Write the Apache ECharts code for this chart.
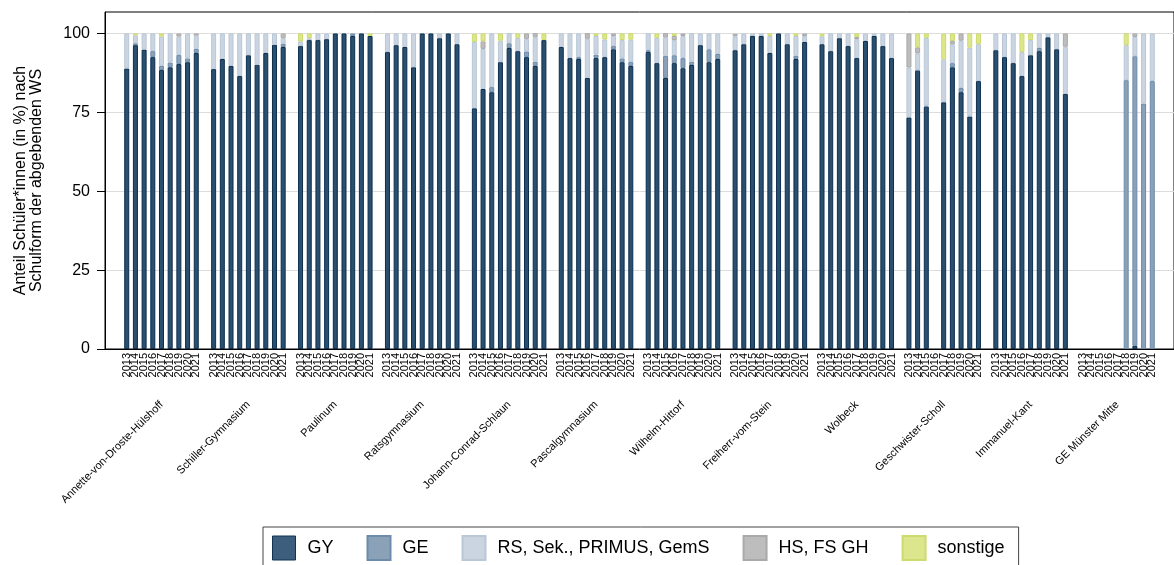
<!DOCTYPE html>
<html><head><meta charset="utf-8">
<script src="https://cdn.jsdelivr.net/npm/echarts@6/dist/echarts.min.js"></script>
<style>html,body{margin:0;padding:0;background:#fff}#c{width:1174px;height:565px}</style>
</head><body><div id="c"></div>
<script>
const schools = ['Annette-von-Droste-Hülshoff','Schiller-Gymnasium','Paulinum','Ratsgymnasium','Johann-Conrad-Schlaun','Pascalgymnasium','Wilhelm-Hittorf','Freiherr-vom-Stein','Wolbeck','Geschwister-Scholl','Immanuel-Kant','GE Münster Mitte'];
const years = ['2013','2014','2015','2016','2017','2018','2019','2020','2021'];
const yTicks = [0,25,50,75,100];
// 9 values per school, in school order
const GY = [
  88.9,96.3,94.9,92.5,88.4,89.3,90.3,90.9,93.8,
  88.7,91.9,89.7,86.5,93.1,90.1,93.8,96.4,95.7,
  96.0,97.9,97.9,98.2,100,100,99.2,100,99.2,
  94.1,96.3,95.7,89.3,100,100,98.5,100,96.6,
  76.3,82.4,81.4,90.9,95.4,94.4,92.5,89.7,97.9,
  95.7,92.2,91.9,85.9,92.2,92.5,95.0,90.9,89.7,
  94.1,90.6,85.9,90.6,89.0,90.0,96.3,90.9,91.9,
  94.7,96.6,99.2,99.2,93.8,100,96.6,91.9,97.3,
  96.6,94.4,98.5,96.0,92.2,97.6,99.2,96.0,92.2,
  73.4,88.2,76.8,null,78.2,89.3,81.4,73.7,84.9,
  94.7,92.5,90.6,86.5,93.1,94.4,98.8,95.0,80.8,
  null,null,null,null,null,0,1.0,0,0
];
const GE = [
  0,0.6,0,1.9,1.3,1.5,2.9,1.2,1.3,
  0,0,0,0,0,0,0,0,1.0,
  0,0,0,0,0,0,0.8,0,0,
  0,0,0,0,0,0,0,0,0,
  0,0,1.6,0,1.5,0,1.8,1.3,0,
  0,0,0.6,0,1.1,0,1.0,1.2,1.3,
  0.6,0,7.0,2.5,3.2,1.0,0,4.1,1.6,
  0,0,0,0,0,0,0,1.0,0,
  0,0,0,0,0,0,0,0,0,
  0,0.2,0.3,null,0,1.3,1.3,0,0,
  0,0,0,0,0,1.0,0,0,0,
  null,null,null,null,null,85.2,91.8,77.8,84.9
];
const RS = [
  11.1,2.5,5.1,5.6,9.3,9.2,5.8,7.9,4.2,
  11.3,8.1,10.3,13.5,6.9,9.9,6.2,3.6,1.8,
  1.5,0.6,2.1,1.8,0,0,0,0,0,
  5.9,3.7,4.3,10.7,0,0,1.5,0,3.4,
  21.0,12.7,17.0,6.8,3.2,4.2,4.0,7.8,0,
  4.3,7.8,7.5,12.4,5.9,5.6,3.2,5.8,7.0,
  5.3,8.0,5.8,4.8,7.0,9.1,3.7,5.0,6.5,
  4.4,3.4,0.8,0.8,5.4,0,3.4,6.3,1.9,
  2.5,5.6,1.5,4.0,6.0,2.4,0.8,4.0,7.8,
  15.8,5.3,21.5,null,13.6,6.0,15.0,21.8,11.7,
  5.3,7.5,9.4,7.6,4.8,4.6,1.2,5.0,15.0,
  null,null,null,null,null,11.1,6.1,22.2,15.1
];
const HS = [
  0,0,0,0,0,0,1.0,0,0.7,
  0,0,0,0,0,0,0,0,1.5,
  0,0,0,0,0,0,0,0,0,
  0,0,0,0,0,0,0,0,0,
  0,2.4,0,0,0,0,1.7,1.3,0,
  0,0,0,1.8,0,0,0.8,0,0,
  0,0,1.4,1.3,0.8,0,0,0,0,
  0.8,0,0,0,0,0,0,0,0.8,
  0,0,0,0,0.7,0,0,0,0,
  10.8,1.9,0,null,0,1.0,2.3,0,0,
  0,0,0,0,0,0,0,0,4.2,
  null,null,null,null,null,0,1.1,0,0
];
const sonstige = [
  0,0.6,0,0,1.0,0,0,0,0,
  0,0,0,0,0,0,0,0,0,
  2.5,1.5,0,0,0,0,0,0,0.8,
  0,0,0,0,0,0,0,0,0,
  2.6,2.5,0,2.3,0,1.4,0,0,2.1,
  0,0,0,0,0.8,1.9,0,2.1,2.1,
  0,1.4,0,0.8,0,0,0,0,0,
  0,0,0,0,0.8,0,0,0.8,0,
  0.8,0,0,0,1.1,0,0,0,0,
  0,4.4,1.4,null,8.1,2.4,0,4.5,3.4,
  0,0,0,5.9,2.1,0,0,0,0,
  null,null,null,null,null,3.7,0,0,0
];

// category slots: blank slots separate the school groups
const LEAD = 2, TRAIL = 2;
const cats = [], schoolCats = [], slotIndex = [];
for (let i = 0; i < LEAD; i++) { cats.push(''); schoolCats.push(''); }
schools.forEach((s, g) => {
  if (g > 0) { cats.push(''); schoolCats.push(''); }
  years.forEach((y, k) => { slotIndex.push(cats.length); cats.push(y); schoolCats.push(k === 4 ? s : ''); });
});
for (let i = 0; i < TRAIL; i++) { cats.push(''); schoolCats.push(''); }
function toSlots(arr) {
  const out = cats.map(() => null);
  arr.forEach((v, i) => { out[slotIndex[i]] = (v === null || v === 0) ? null : v; });
  return out;
}

const FONT = '"Liberation Sans", Arial, sans-serif';
const slotW = 8.705;
const chart = echarts.init(document.getElementById('c'), null, {renderer: 'canvas'});
function mk(name, data, fill, border) {
  return { name, type: 'bar', stack: 'all', barWidth: 5, data: toSlots(data),
    itemStyle: { color: fill, borderColor: border, borderWidth: 1 },
    emphasis: { disabled: true }, animation: false };
}
chart.setOption({
  animation: false,
  textStyle: { fontFamily: FONT, color: '#000' },
  grid: { left: 105, top: 12, width: slotW * cats.length, height: 337, show: true, borderColor: '#000', borderWidth: 1, backgroundColor: 'transparent' },
  xAxis: [
    { type: 'category', data: cats, gridIndex: 0, position: 'bottom',
      axisLine: { show: true, lineStyle: { color: '#000', width: 1 } },
      axisTick: { show: false },
      axisLabel: { interval: 0, rotate: 90, fontSize: 11, margin: 4, color: '#000', fontFamily: FONT } },
    { type: 'category', data: schoolCats, gridIndex: 0, position: 'bottom', offset: 46,
      axisLine: { show: false }, axisTick: { show: false },
      axisLabel: { interval: 0, rotate: 45, fontSize: 11, margin: 8, color: '#000', fontFamily: FONT } }
  ],
  yAxis: {
    type: 'value', min: 0, max: 106.8, interval: 25,
    name: 'Anteil Schüler*innen (in %) nach\nSchulform der abgebenden WS',
    nameLocation: 'middle', nameGap: 60,
    nameTextStyle: { fontSize: 16, lineHeight: 16, color: '#000', fontFamily: FONT },
    axisLine: { show: true, lineStyle: { color: '#000' } },
    axisTick: { show: true, length: 8, customValues: yTicks, lineStyle: { color: '#000' } },
    axisLabel: { fontSize: 16, margin: 15, customValues: yTicks, color: '#000', fontFamily: FONT },
    splitLine: { show: true, lineStyle: { color: '#dcdcdc', width: 1 } }
  },
  legend: {
    left: 263, top: 527, orient: 'horizontal',
    padding: [8, 14, 8, 9], itemGap: 33, itemWidth: 23, itemHeight: 24,
    borderColor: '#444', borderWidth: 1, icon: 'rect',
    textStyle: { fontSize: 18, color: '#000', padding: [0, 0, 4, 7], fontFamily: FONT },
    data: [
      { name: 'GY', itemStyle: { color: '#3d5f7d', borderColor: '#0f3454', borderWidth: 1 } },
      { name: 'GE' },
      { name: 'RS, Sek., PRIMUS, GemS', textStyle: { padding: [0, 8, 4, 7] } },
      { name: 'HS, FS GH', textStyle: { padding: [0, 5, 4, 7] } },
      { name: 'sonstige' }
    ]
  },
  series: [
    mk('GY', GY, '#2b4f6f', '#0c2f4f'),
    mk('GE', GE, '#8aa1b8', '#6d8cab'),
    mk('RS, Sek., PRIMUS, GemS', RS, '#cbd5e1', '#b9c7d6'),
    mk('HS, FS GH', HS, '#bdbdbd', '#a9a9a9'),
    mk('sonstige', sonstige, '#dce68c', '#cddb6c')
  ]
});
</script></body></html>
